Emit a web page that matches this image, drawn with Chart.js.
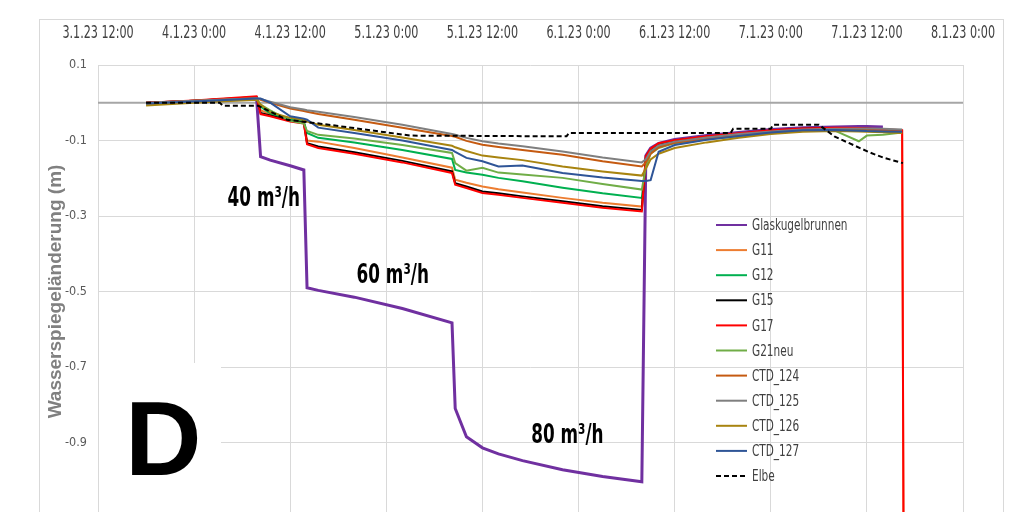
<!DOCTYPE html>
<html>
<head>
<meta charset="utf-8">
<script src="https://cdn.jsdelivr.net/npm/chart.js@4/dist/chart.umd.min.js"></script>
<style>
    html, body { margin: 0; padding: 0; background: #fff; overflow: hidden; }
    #wrap { width: 1036px; height: 540px; position: relative; }
</style>
</head>
<body>
<div id="wrap"><canvas id="chart"></canvas></div>
<script>
// x values are hours since 3.1.23 12:00
const X_LABELS = ["3.1.23 12:00", "4.1.23 0:00", "4.1.23 12:00", "5.1.23 0:00", "5.1.23 12:00",
    "6.1.23 0:00", "6.1.23 12:00", "7.1.23 0:00", "7.1.23 12:00", "8.1.23 0:00"];
const Y_TICKS = [0.1, -0.1, -0.3, -0.5, -0.7, -0.9, -1.1];

const HOURS = [6, 12, 19.8, 20.3, 21.5, 24, 25.7, 26.1, 27.5, 32, 38, 44.2, 44.6, 46, 48, 50, 53, 58, 63, 67.9,
    68.4, 69, 70, 72, 76, 80, 84, 88, 92, 95, 96, 98, 100.4, 100.6];

const GLASKUGEL = [-0.002, 0.004, 0.012, -0.143, -0.152, -0.167, -0.178, -0.49, -0.497, -0.515, -0.545, -0.583, -0.81, -0.885, -0.914, -0.93, -0.948, -0.972, -0.99, -1.004,
    -0.14, -0.12, -0.108, -0.097, -0.087, -0.079, -0.071, -0.066, -0.064, -0.063, -0.063, -0.064, null, null];
const G11 = [0.0, 0.005, 0.014, -0.02, -0.03, -0.045, -0.05, -0.1, -0.103, -0.12, -0.145, -0.172, -0.204, -0.212, -0.222, -0.229, -0.238, -0.252, -0.265, -0.275,
    -0.145, -0.125, -0.11, -0.1, -0.09, -0.082, -0.075, -0.07, -0.068, -0.069, -0.07, -0.072, -0.075, -1.3];
const G12 = [-0.001, 0.004, 0.012, -0.01, -0.028, -0.045, -0.05, -0.08, -0.093, -0.105, -0.125, -0.149, -0.178, -0.185, -0.191, -0.199, -0.208, -0.225, -0.24, -0.252,
    -0.16, -0.13, -0.114, -0.103, -0.093, -0.086, -0.078, -0.073, -0.071, -0.073, -0.074, -0.075, -0.077, null];
const G15 = [0.0, 0.005, 0.015, -0.027, -0.034, -0.048, -0.053, -0.107, -0.116, -0.131, -0.154, -0.182, -0.213, -0.222, -0.235, -0.24, -0.248, -0.261, -0.274, -0.284,
    -0.143, -0.124, -0.109, -0.1, -0.09, -0.082, -0.074, -0.069, -0.067, -0.068, -0.069, -0.071, -0.074, null];
const G17 = [0.0, 0.006, 0.017, -0.03, -0.036, -0.05, -0.055, -0.11, -0.12, -0.135, -0.158, -0.186, -0.217, -0.226, -0.239, -0.244, -0.252, -0.265, -0.278, -0.288,
    -0.142, -0.122, -0.107, -0.099, -0.089, -0.081, -0.073, -0.068, -0.066, -0.067, -0.068, -0.07, -0.073, -1.3];
const G21NEU = [-0.002, 0.004, 0.01, -0.005, -0.02, -0.048, -0.055, -0.075, -0.085, -0.095, -0.112, -0.133, -0.16, -0.18, -0.172, -0.185, -0.19, -0.199, -0.215, -0.23,
    -0.17, -0.135, -0.12, -0.107, -0.097, -0.089, -0.081, -0.075, -0.074, -0.102, -0.087, -0.085, -0.079, null];
const CTD_124 = [-0.001, 0.005, 0.012, 0.008, 0.0, -0.015, -0.022, -0.024, -0.03, -0.045, -0.066, -0.088, -0.09, -0.101, -0.111, -0.117, -0.125, -0.138, -0.155, -0.169,
    -0.158, -0.135, -0.118, -0.106, -0.095, -0.086, -0.078, -0.073, -0.072, -0.073, -0.073, -0.074, -0.076, null];
const CTD_125 = [0.0, 0.005, 0.012, 0.01, 0.003, -0.012, -0.018, -0.02, -0.024, -0.038, -0.058, -0.083, -0.085, -0.093, -0.102, -0.108, -0.115, -0.129, -0.145, -0.158,
    -0.15, -0.128, -0.113, -0.103, -0.092, -0.083, -0.076, -0.071, -0.069, -0.068, -0.068, -0.069, -0.071, null];
const CTD_126 = [-0.007, 0.0, 0.008, -0.005, -0.025, -0.04, -0.045, -0.05, -0.058, -0.072, -0.092, -0.114, -0.118, -0.128, -0.14, -0.145, -0.152, -0.169, -0.182, -0.193,
    -0.175, -0.15, -0.135, -0.12, -0.105, -0.093, -0.083, -0.077, -0.075, -0.076, -0.077, -0.078, -0.08, null];
const CTD_127 = [-0.002, 0.003, 0.011, 0.011, 0.0, -0.036, -0.042, -0.045, -0.066, -0.08, -0.1, -0.125, -0.13, -0.146, -0.155, -0.169, -0.166, -0.186, -0.198, -0.207,
    -0.207, -0.205, -0.13, -0.112, -0.098, -0.088, -0.079, -0.073, -0.072, -0.074, -0.075, -0.076, -0.077, null];

const ELBE_HOURS = [6, 15.2, 15.6, 20, 23.6, 28, 33, 39, 58.5, 58.8, 79, 79.3, 84, 84.3, 90, 92, 96.4, 98, 100.5];
const ELBE = [0.0, 0.0, -0.008, -0.008, -0.045, -0.056, -0.07, -0.087, -0.089, -0.08, -0.08, -0.069, -0.069, -0.058, -0.058, -0.09, -0.132, -0.145, -0.16];

const NOTE_TEXT = ["40 m\u00b3/h", "60 m\u00b3/h", "80 m\u00b3/h"];
const NOTE_H = [20.7, 36.8, 58.6];
const NOTE_V = [-0.273, -0.477, -0.901];

const NARROW = "'Liberation Sans Narrow', 'DejaVu Sans Condensed', 'Liberation Sans', sans-serif";

const SERIES = [
    { label: "Glaskugelbrunnen", values: GLASKUGEL, color: "#7030a0", width: 3 },
    { label: "G11", values: G11, color: "#ed7d31" },
    { label: "G12", values: G12, color: "#00b050" },
    { label: "G15", values: G15, color: "#000000" },
    { label: "G17", values: G17, color: "#ff0000" },
    { label: "G21neu", values: G21NEU, color: "#70ad47" },
    { label: "CTD_124", values: CTD_124, color: "#c55a11" },
    { label: "CTD_125", values: CTD_125, color: "#7f7f7f" },
    { label: "CTD_126", values: CTD_126, color: "#a88410" },
    { label: "CTD_127", values: CTD_127, color: "#2f5597" },
];

function toPoints(xs, ys) {
    return xs.map((x, i) => ({ x, y: ys[i] }));
}

// the source picture is squeezed sideways, so text is drawn narrowed
function squeezedText(ctx, text, x, y, sx) {
    ctx.save();
    ctx.translate(x, y);
    ctx.scale(sx, 1);
    ctx.fillText(text, 0, 0);
    ctx.restore();
}

const datasets = SERIES.map((s, i) => ({
    label: s.label,
    data: toPoints(HOURS, s.values),
    borderColor: s.color,
    backgroundColor: s.color,
    borderWidth: s.width || 2,
    pointRadius: 0,
    tension: 0,
    spanGaps: false,
    order: -i,
}));
datasets.push({
    label: "Elbe",
    data: toPoints(ELBE_HOURS, ELBE),
    borderColor: "#000000",
    backgroundColor: "#000000",
    borderWidth: 2,
    borderDash: [5, 3],
    pointRadius: 0,
    tension: 0,
    order: -20,
});

const decor = {
    id: "decor",
    beforeDraw(chart) {
        const ctx = chart.ctx;
        ctx.save();
        ctx.fillStyle = "#ffffff";
        ctx.fillRect(0, 0, chart.width, chart.height);
        ctx.strokeStyle = "#d9d9d9";
        ctx.lineWidth = 1;
        ctx.strokeRect(39.5, 19.5, 964, 700);
        ctx.restore();
    },
    beforeDatasetsDraw(chart) {
        const { ctx, chartArea, scales } = chart;
        const y0 = scales.y.getPixelForValue(0);
        ctx.save();
        ctx.strokeStyle = "#a6a6a6";
        ctx.lineWidth = 2;
        ctx.beginPath();
        ctx.moveTo(chartArea.left, y0);
        ctx.lineTo(chartArea.right, y0);
        ctx.stroke();
        // white patch behind the panel letter
        ctx.fillStyle = "#ffffff";
        ctx.fillRect(chartArea.left + 1, 363, 122, 200);
        ctx.restore();
    },
    afterDraw(chart) {
        const { ctx, scales } = chart;
        ctx.save();

        // time labels along the top axis
        ctx.fillStyle = "#404040";
        ctx.font = "17px " + NARROW;
        ctx.textAlign = "center";
        ctx.textBaseline = "middle";
        scales.x.ticks.forEach((t, i) => {
            squeezedText(ctx, X_LABELS[i], scales.x.getPixelForValue(t.value), 34, 0.73);
        });

        // panel letter
        ctx.fillStyle = "#000000";
        ctx.font = "bold 106px 'Liberation Sans', Arial, sans-serif";
        ctx.textAlign = "left";
        ctx.textBaseline = "alphabetic";
        ctx.fillText("D", 125, 475);

        // flow rate notes
        ctx.font = "bold 26px " + NARROW;
        ctx.textAlign = "center";
        NOTE_TEXT.forEach((t, i) => {
            squeezedText(ctx, t, scales.x.getPixelForValue(NOTE_H[i]), scales.y.getPixelForValue(NOTE_V[i]), 0.72);
        });

        // legend
        ctx.font = "16px " + NARROW;
        ctx.textAlign = "left";
        ctx.textBaseline = "middle";
        chart.data.datasets.forEach((ds, i) => {
            const y = 225 + i * 25.1;
            ctx.strokeStyle = ds.borderColor;
            ctx.lineWidth = 2;
            ctx.setLineDash(ds.borderDash || []);
            ctx.beginPath();
            ctx.moveTo(716, y);
            ctx.lineTo(747, y);
            ctx.stroke();
            ctx.fillStyle = "#404040";
            squeezedText(ctx, ds.label, 752, y + 1, 0.73);
        });
        ctx.restore();
    },
};

new Chart(document.getElementById("chart"), {
    type: "line",
    data: { datasets },
    options: {
        responsive: true,
        maintainAspectRatio: false,
        animation: false,
        layout: { padding: { left: 0, right: 73, top: 0, bottom: 22 } },
        plugins: {
            legend: { display: false },
            tooltip: { enabled: false },
        },
        scales: {
            x: {
                type: "linear",
                position: "top",
                min: 0,
                max: (X_LABELS.length - 1) * 12,
                afterBuildTicks: scale => { scale.ticks = X_LABELS.map((_, i) => ({ value: i * 12 })); },
                afterFit: scale => { scale.height = 65; },
                ticks: { display: false },
                grid: { color: "#d9d9d9", lineWidth: 1, drawTicks: false },
                border: { display: false },
            },
            y: {
                type: "linear",
                min: Math.min(...Y_TICKS),
                max: Math.max(...Y_TICKS),
                afterBuildTicks: scale => { scale.ticks = Y_TICKS.map(v => ({ value: v })); },
                afterFit: scale => { scale.width = 98; },
                ticks: {
                    padding: 11,
                    color: "#595959",
                    font: { family: NARROW, size: 12.5 },
                    callback: v => String(Math.round(v * 10) / 10),
                },
                grid: { color: "#d9d9d9", lineWidth: 1, drawTicks: false },
                border: { display: false },
                title: {
                    display: true,
                    text: "Wasserspiegeländerung (m)",
                    color: "#808080",
                    font: { family: "'Liberation Sans', Arial, sans-serif", size: 19, weight: "bold" },
                    padding: { top: 44, bottom: 0 },
                },
            },
        },
    },
    plugins: [decor],
});
</script>
</body>
</html>
